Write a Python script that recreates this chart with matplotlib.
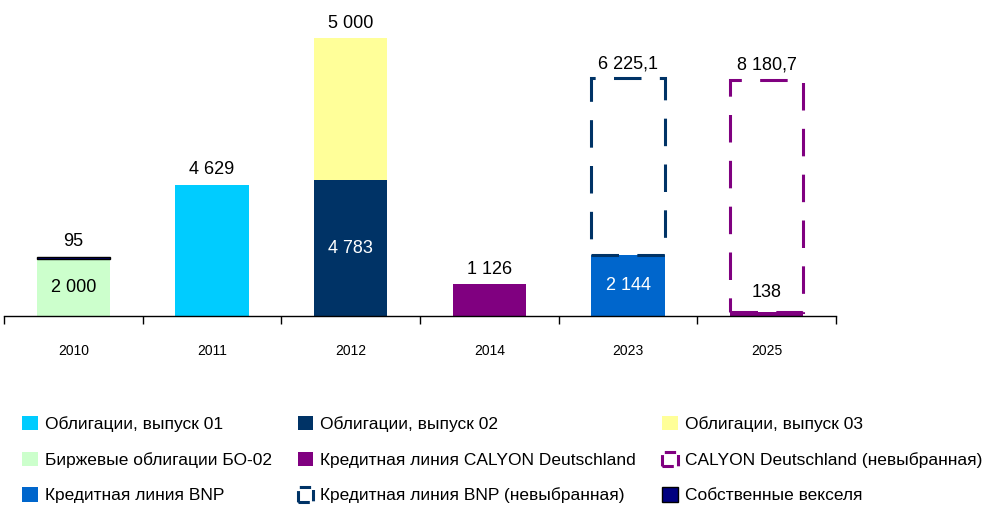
import matplotlib
matplotlib.use("Agg")
import matplotlib.pyplot as plt
from matplotlib.patches import Patch
import numpy as np

plt.rcParams['font.family'] = ['Liberation Sans', 'DejaVu Sans']

years = ['2010', '2011', '2012', '2014', '2023', '2025']

# значения по сериям (млн руб.)
obl_01 = [0, 4629, 0, 0, 0, 0]
obl_02 = [0, 0, 4783, 0, 0, 0]
obl_03 = [0, 0, 5000, 0, 0, 0]
bo_02 = [2000, 0, 0, 0, 0, 0]
calyon = [0, 0, 0, 1126, 0, 138]
bnp = [0, 0, 0, 0, 2144, 0]
veksel = [95, 0, 0, 0, 0, 0]
bnp_free = [0, 0, 0, 0, 6225.1, 0]
calyon_free = [0, 0, 0, 0, 0, 8180.7]

names = {
    'obl_01': 'Облигации, выпуск 01',
    'obl_02': 'Облигации, выпуск 02',
    'obl_03': 'Облигации, выпуск 03',
    'bo_02': 'Биржевые облигации БО-02',
    'calyon': 'Кредитная линия CALYON Deutschland',
    'calyon_free': 'CALYON Deutschland (невыбранная)',
    'bnp': 'Кредитная линия BNP',
    'bnp_free': 'Кредитная линия BNP (невыбранная)',
    'veksel': 'Собственные векселя',
}

# порядок наложения, стиль, положение подписи
series = [
    ('obl_01', obl_01, dict(fc='#00CCFF'), 'above', 'black'),
    ('obl_02', obl_02, dict(fc='#003366'), 'inside', 'white'),
    ('obl_03', obl_03, dict(fc='#FFFF99'), 'above', 'black'),
    ('bo_02', bo_02, dict(fc='#CCFFCC'), 'inside', 'black'),
    ('calyon', calyon, dict(fc='#800080'), 'above', 'black'),
    ('bnp', bnp, dict(fc='#0066CC'), 'inside', 'white'),
    ('veksel', veksel, dict(fc='#000080', ec='black', lw=1.0), 'above', 'black'),
    ('bnp_free', bnp_free, dict(fc='none', ec='#003366', lw=2.2, ls=(0, (9, 6))), 'above', 'black'),
    ('calyon_free', calyon_free, dict(fc='none', ec='#800080', lw=2.2, ls=(0, (9, 6))), 'above', 'black'),
]


def fmt(v):
    if float(v).is_integer():
        s = f"{v:,.0f}"
    else:
        s = f"{v:,.1f}"
    return s.replace(',', ' ').replace('.', ',')


fig = plt.figure(figsize=(9.82, 5.08), dpi=100)
ax = fig.add_axes([4 / 982, 192 / 508, 832 / 982, 284 / 508])

x = np.arange(len(years))
width = 0.53
bottom = np.zeros(len(years))
handles = {}
for key, vals, style, pos, tcol in series:
    vals = np.array(vals, dtype=float)
    for i in range(len(years)):
        if vals[i] == 0:
            continue
        ax.bar(x[i], vals[i], width, bottom=bottom[i], **style)
        if pos == 'inside':
            ax.text(x[i], bottom[i] + vals[i] / 2, fmt(vals[i]), ha='center', va='center',
                    fontsize=13, color=tcol)
        else:
            off = 8 if (key == 'calyon' and i == 5) else 4.5
            ax.annotate(fmt(vals[i]), (x[i], bottom[i] + vals[i]), xytext=(0, off),
                        textcoords='offset points', ha='center', va='bottom', fontsize=13, color=tcol)
    bottom += vals
    st = dict(style)
    handles[key] = Patch(facecolor=st.get('fc'), edgecolor=st.get('ec', 'none'),
                         linewidth=st.get('lw', 0), linestyle='--' if 'ls' in st else '-')

ax.set_xlim(-0.5, len(years) - 0.5)
ax.set_ylim(0, 10000)
for s in ['top', 'right', 'left']:
    ax.spines[s].set_visible(False)
ax.spines['bottom'].set_linewidth(1.0)
ax.set_yticks([])
ax.set_xticks(x)
ax.set_xticklabels(years, fontsize=10)
ax.tick_params(axis='x', which='major', length=0, pad=20)
ax.set_xticks(np.arange(-0.5, len(years)), minor=True)
ax.tick_params(axis='x', which='minor', length=6, width=1.0, direction='out')

# легенда: заполнение по столбцам
order = ['obl_01', 'bo_02', 'bnp', 'obl_02', 'calyon', 'bnp_free', 'obl_03', 'calyon_free', 'veksel']
fig.legend([handles[k] for k in order], [names[k] for k in order], ncol=3,
           loc='upper left', bbox_to_anchor=(22 / 982, 1 - 416 / 508), frameon=False,
           fontsize=12.5, handlelength=0.9, handleheight=0.9, handletextpad=0.4,
           columnspacing=1.5, labelspacing=1.12, borderaxespad=0, borderpad=0)

fig.savefig('out.png', dpi=100)
